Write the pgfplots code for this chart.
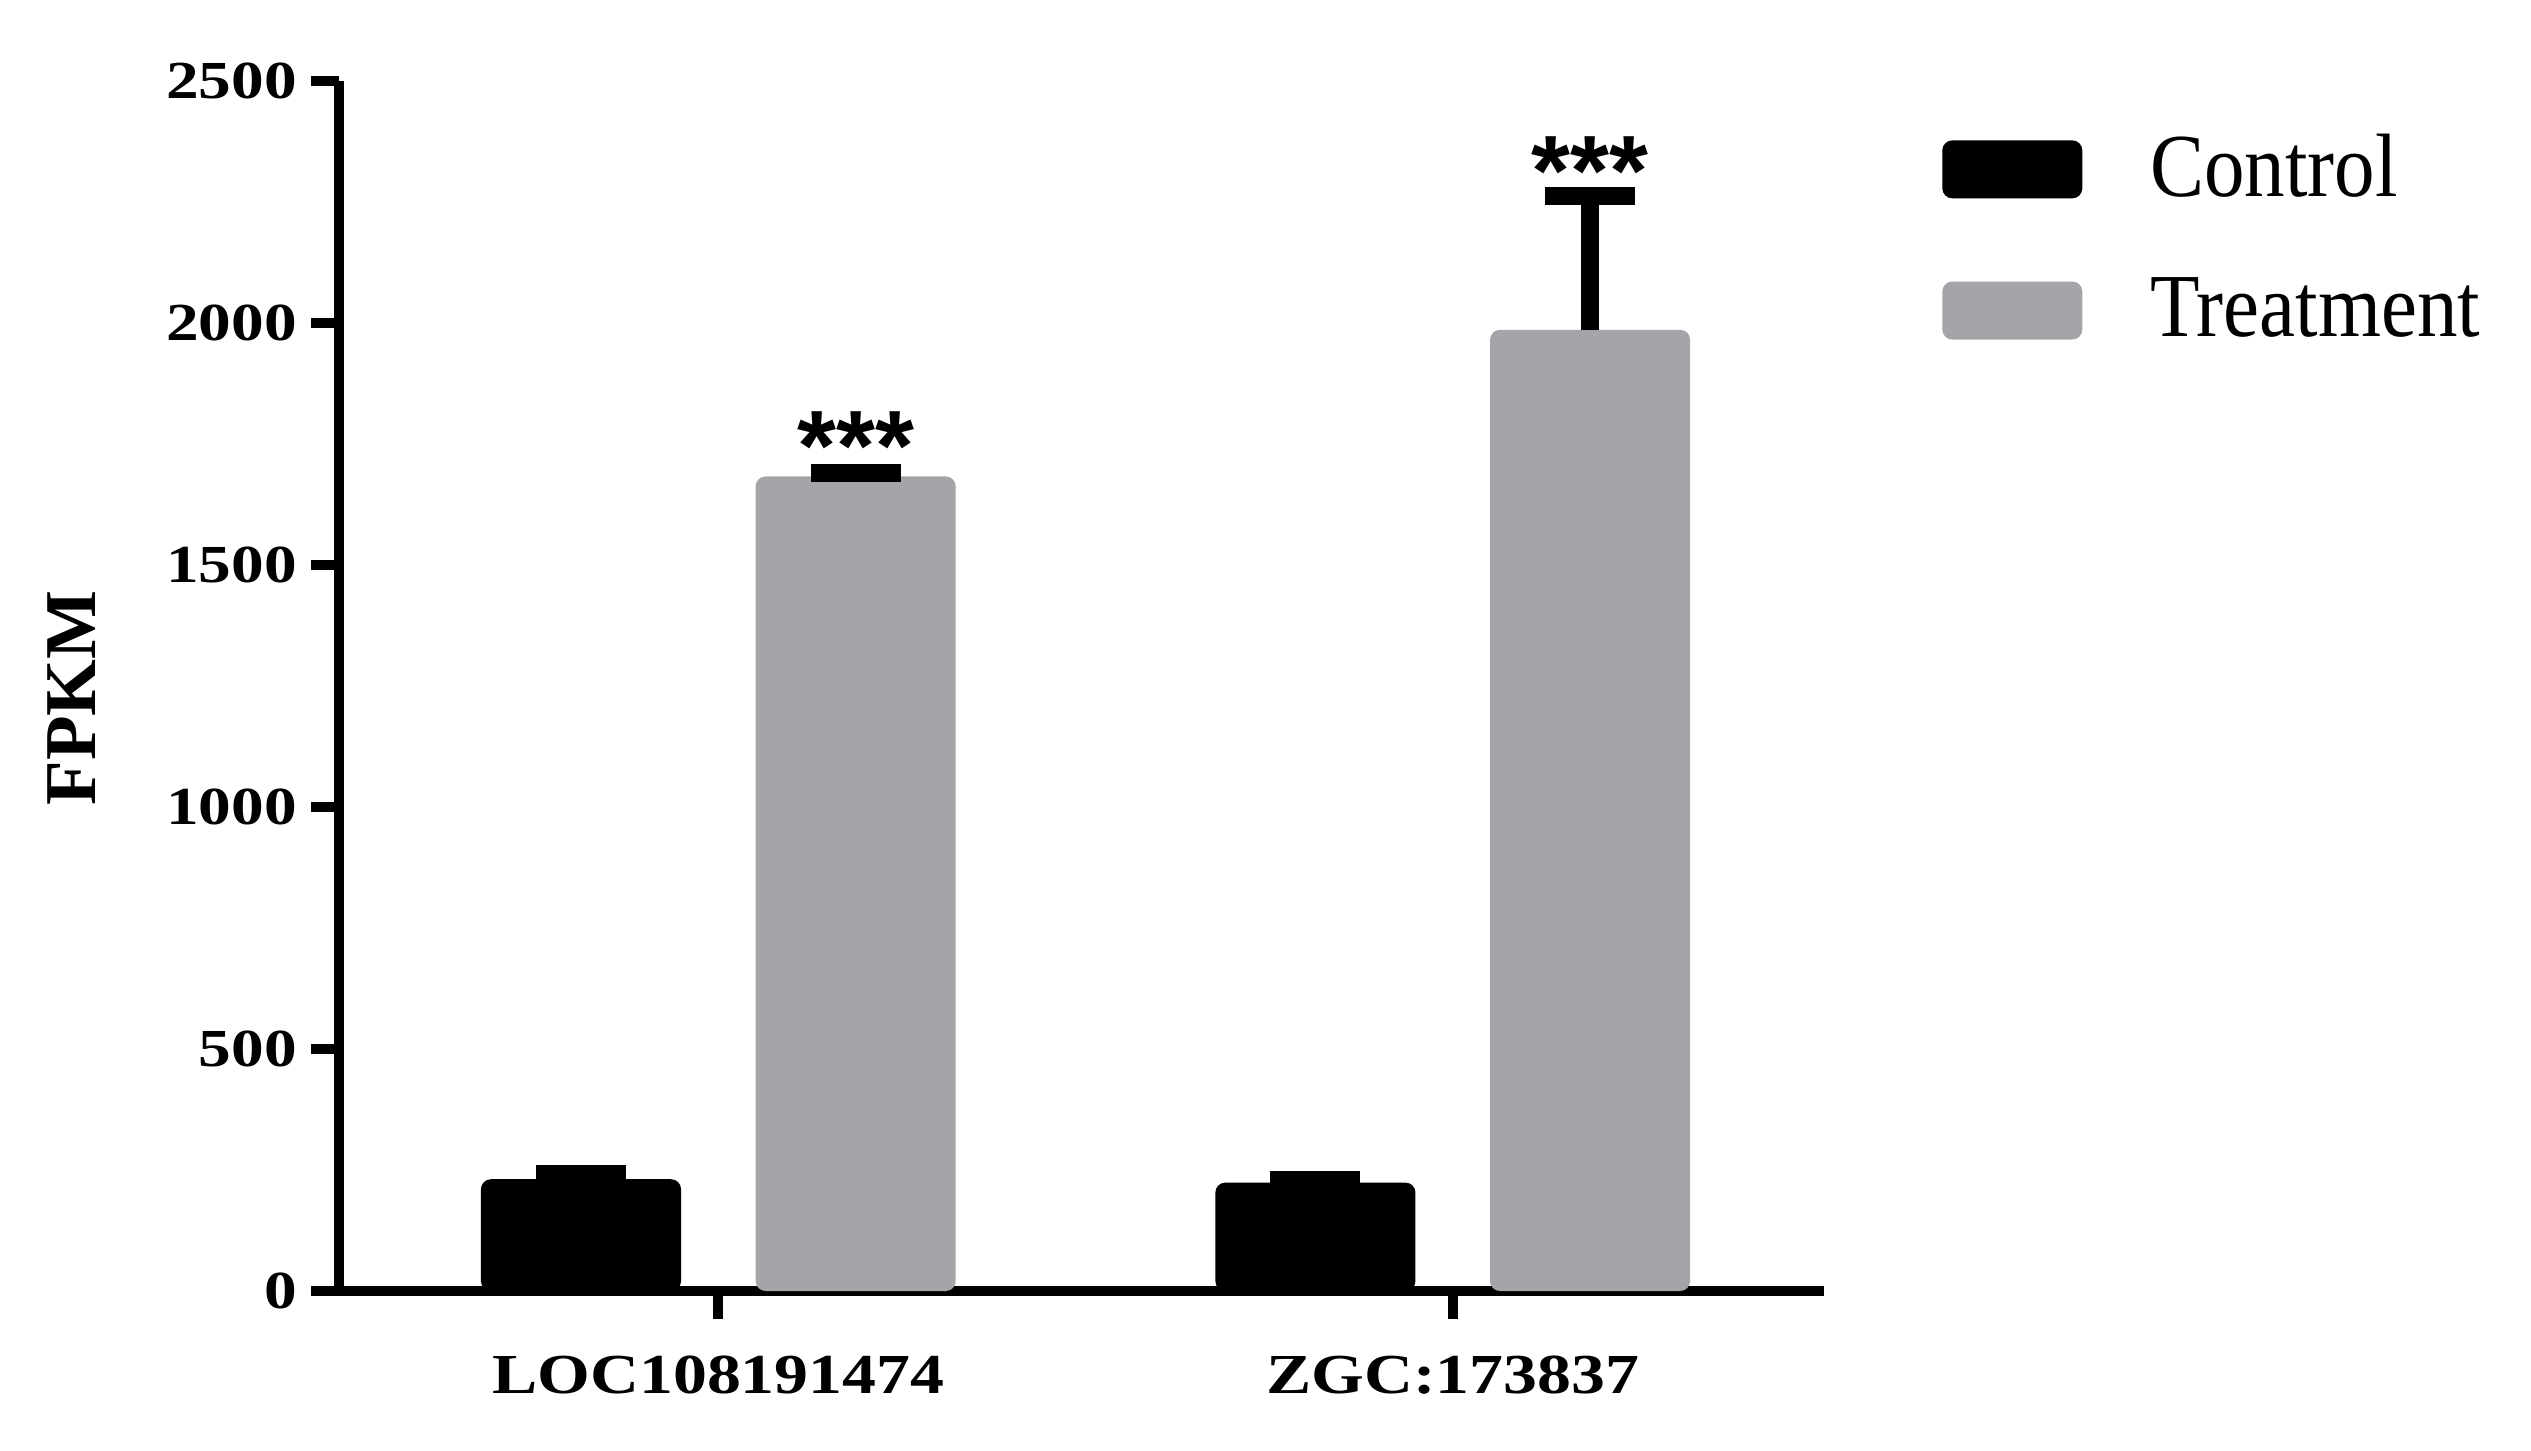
\documentclass[border=0pt]{standalone}
\usepackage{pgfplots}
\pgfplotsset{compat=1.18}
\usepackage{fontspec}
\setmainfont{Liberation Serif}
\newfontfamily\widefont[FakeStretch=1.22]{Liberation Serif}
\newfontfamily\xlabfont[FakeStretch=1.2]{Liberation Serif}
\newfontfamily\legfont[FakeStretch=0.9]{Liberation Serif}
\newfontfamily\starfont{Liberation Sans}
\definecolor{ctrl}{RGB}{0,0,0}
\definecolor{treat}{RGB}{165,164,169}
\begin{document}
\begin{tikzpicture}
\useasboundingbox (-67.8pt,-31.8pt) rectangle (438.4pt,258.2pt);
\begin{axis}[
  at={(0,0)}, anchor=south west,
  scale only axis, width=297pt, height=242pt,
  xmin=0.4835, xmax=2.5055, ymin=0, ymax=2500,
  axis x line*=bottom, axis y line*=left,
  axis line style={line width=2pt, -},
  every tick/.style={line width=2pt, black},
  ytick={0,500,1000,1500,2000,2500},
  xtick={1,2}, xticklabels={LOC108191474, ZGC:173837},
  tick align=outside,
  major tick length=5.5pt,
  yticklabel style={font=\widefont\bfseries\fontsize{10.7}{12}\selectfont, xshift=0.6pt,
    /pgf/number format/1000 sep={}},
  xticklabel style={font=\xlabfont\bfseries\fontsize{11.3}{13}\selectfont, yshift=-4pt},
  /pgf/number format/assume math mode=true,
  /pgf/number format/1000 sep={},
  scaled y ticks=false,
  ylabel={FPKM},
  ylabel style={font=\bfseries\fontsize{14.6}{16}\selectfont, at={(axis description cs:-0.18,0.49)}, anchor=center},
  ybar, bar width=0.2725,
  legend style={at={(1.079,0.965)}, anchor=north west, draw=none, fill=none,
    font=\legfont\fontsize{18}{20}\selectfont, row sep=10.6pt, column sep=11.6pt, inner sep=0pt},
  legend cell align=left,
  legend image code/.code={\fill[#1, rounded corners=2pt] (0pt,-5.8pt) rectangle (28pt,5.8pt);},
  clip=false,
]
\addplot[ybar, bar shift=-0.187, fill=ctrl, draw=none, rounded corners=2pt,
  error bars/.cd, y dir=plus, y explicit,
  error bar style={line width=3.6pt, black, sharp corners},
  error mark options={rotate=90, line width=3.6pt, mark size=9pt, black}]
  coordinates {(1,231) +- (0,11) (2,224) +- (0,5)};
\addplot[ybar, bar shift=0.187, fill=treat, draw=none, rounded corners=2pt,
  error bars/.cd, y dir=plus, y explicit,
  error bar style={line width=3.6pt, black, sharp corners},
  error mark options={rotate=90, line width=3.6pt, mark size=9pt, black}]
  coordinates {(1,1683) +- (0,8) (2,1986) +- (0,276)};
\legend{Control, Treatment}
\node[font=\starfont\bfseries\fontsize{20}{22}\selectfont, anchor=base] at (axis cs:1.187,1675) {***};
\node[font=\starfont\bfseries\fontsize{20}{22}\selectfont, anchor=base] at (axis cs:2.187,2242) {***};
\end{axis}
\end{tikzpicture}
\end{document}
